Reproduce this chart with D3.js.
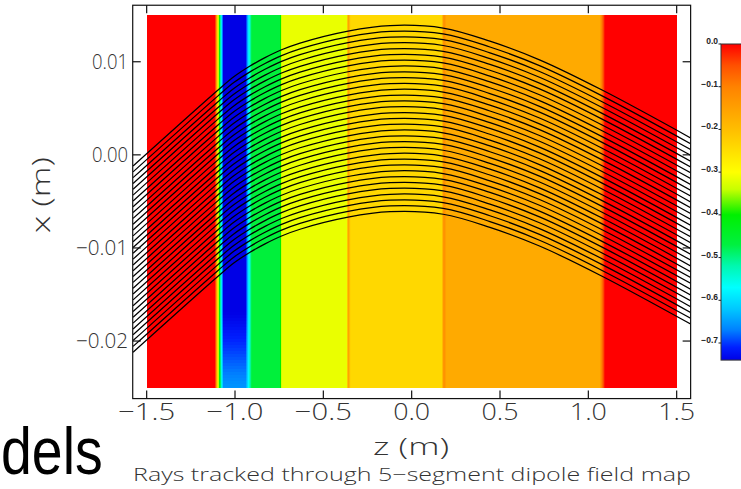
<!DOCTYPE html>
<html><head><meta charset="utf-8">
<script src="https://cdn.jsdelivr.net/npm/d3@7"></script>
<style>html,body{margin:0;padding:0;background:#fff;overflow:hidden}</style>
</head><body><svg id="c" width="741" height="489"></svg>
<script>
// ---- data ----
const zTicks = [-1.5, -1.0, -0.5, 0.0, 0.5, 1.0, 1.5];
const zTickLabels = ["\u22121.5", "\u22121.0", "\u22120.5", "0.0", "0.5", "1.0", "1.5"];
const xTicks = [0.01, 0.0, -0.01, -0.02];
const xTickLabels = ["0.01", "0.00", "\u22120.01", "\u22120.02"];
const cbTicks = [0.0, -0.1, -0.2, -0.3, -0.4, -0.5, -0.6, -0.7];
const cbTickLabels = ["0.0", "\u22120.1", "\u22120.2", "\u22120.3", "\u22120.4", "\u22120.5", "\u22120.6", "\u22120.7"];
const cmapValues = [0.0, -0.05, -0.1, -0.2, -0.3, -0.34, -0.4, -0.47, -0.52, -0.57, -0.62, -0.67, -0.71, -0.74];
const cmapColors = ["#ff0000", "#ff5000", "#ff8200", "#ffbe00", "#ffff00", "#c8ff00", "#00f000", "#00f040", "#00f8b0", "#00ffff", "#00c8ff", "#0080ff", "#0020ff", "#0000e6"];
// field map along z (top part and bottom edge of the map)
const fieldZ      = [-1.5, -1.113, -1.09, -1.066, -0.940, -0.925, -0.905, -0.748, -0.735, -0.368, -0.360, -0.345, 0.170, 0.182, 0.198, 1.064, 1.094, 1.5];
const fieldTop    = [0, 0, -0.40, -0.74, -0.74, -0.60, -0.465, -0.465, -0.315, -0.315, -0.14, -0.24, -0.24, -0.115, -0.167, -0.167, 0, 0];
const fieldBottom = [0, 0, -0.40, -0.655, -0.655, -0.58, -0.465, -0.465, -0.315, -0.315, -0.14, -0.24, -0.24, -0.115, -0.167, -0.167, 0, 0];
// top ray path (z in m, x in m)
const rayZ = [-1.577, -1.096, -1.005, -0.915, -0.830, -0.740, -0.632, -0.360, -0.122, 0.178, 0.443, 0.727, 1.078, 1.581];
const rayX = [-0.00120, 0.00696, 0.00841, 0.00954, 0.01044, 0.01126, 0.01201, 0.01330, 0.01389, 0.01362, 0.01221, 0.01018, 0.00696, 0.00180];
// offset of each ray from the top ray (mm)
const rayOffsetsMm = [0, -0.625, -1.25, -1.875, -2.5, -3.125, -3.75, -4.375, -5, -5.625, -6.25, -6.875, -7.5, -8.125, -8.75, -9.375, -10,
  -10.625, -11.25, -11.875, -12.5, -13.125, -13.75, -14.375, -15, -15.625, -16.25, -16.875, -17.5, -18.125, -18.75, -19.375, -20];
const frameZ = [-1.579, 1.579];
const frameX = [-0.02618, 0.01607];
const mapZ = [-1.5, 1.5];
const mapX = [-0.025, 0.015];
const cbRange = [0.0, -0.74];

// ---- scales ----
const svg = d3.select("#c");
const zs = d3.scaleLinear().domain([-1.5, 1.5]).range([146.67, 676.67]);
const xs = d3.scaleLinear().domain([-0.025, 0.015]).range([387.6, 15.2]);
const cmap = d3.scaleLinear().domain(cmapValues).range(cmapColors).interpolate(d3.interpolateRgb).clamp(true);
const fTop = d3.scaleLinear().domain(fieldZ).range(fieldTop).clamp(true);
const fBot = d3.scaleLinear().domain(fieldZ).range(fieldBottom).clamp(true);
const wBot = d3.scaleLinear().domain([-0.017, -0.025]).range([0, 1]).clamp(true);

const font = "'Open Sans', 'Liberation Sans', sans-serif";
const tcol = "#333";

// ---- heatmap ----
const hm = svg.append("g").attr("shape-rendering", "crispEdges");
const px0 = Math.round(zs(mapZ[0])), px1 = Math.round(zs(mapZ[1]));
const yTop = xs(mapX[1]), yBot = xs(mapX[0]);
for (let px = px0; px < px1; px++) {
  const z = zs.invert(px + 0.5);
  const a = fTop(z), b = fBot(z);
  if (Math.abs(a - b) < 1e-4) {
    hm.append("rect").attr("x", px).attr("y", yTop).attr("width", 1.05).attr("height", yBot - yTop).attr("fill", cmap(a));
  } else {
    for (let py = yTop; py < yBot; py += 3) {
      const xv = xs.invert(py + 1.5);
      const t = wBot(xv);
      hm.append("rect").attr("x", px).attr("y", py).attr("width", 1.05).attr("height", Math.min(3.05, yBot - py)).attr("fill", cmap(a + (b - a) * t));
    }
  }
}

// ---- frame ----
const fx0 = zs(frameZ[0]), fx1 = zs(frameZ[1]), fy0 = xs(frameX[1]), fy1 = xs(frameX[0]);
svg.append("clipPath").attr("id", "clip").append("rect").attr("x", fx0).attr("y", fy0).attr("width", fx1 - fx0).attr("height", fy1 - fy0);

// ---- rays ----
const line = d3.line().x(d => zs(d[0])).y(d => xs(d[1])).curve(d3.curveCatmullRom.alpha(0.5));
const rg = svg.append("g").attr("clip-path", "url(#clip)");
rayOffsetsMm.forEach(o => {
  const pts = rayZ.map((z, i) => [z, rayX[i] + o / 1000]);
  rg.append("path").attr("d", line(pts)).attr("fill", "none").attr("stroke", "#000").attr("stroke-width", 1.25);
});

svg.append("rect").attr("x", fx0).attr("y", fy0).attr("width", fx1 - fx0).attr("height", fy1 - fy0)
  .attr("fill", "none").attr("stroke", "#111").attr("stroke-width", 1.2);

// ticks
const tk = svg.append("g").attr("stroke", "#111").attr("stroke-width", 1.2);
zTicks.forEach(v => {
  tk.append("line").attr("x1", zs(v)).attr("x2", zs(v)).attr("y1", fy1).attr("y2", fy1 - 8);
  tk.append("line").attr("x1", zs(v)).attr("x2", zs(v)).attr("y1", fy0).attr("y2", fy0 + 8);
});
xTicks.forEach(v => {
  tk.append("line").attr("x1", fx0).attr("x2", fx0 + 8).attr("y1", xs(v)).attr("y2", xs(v));
  tk.append("line").attr("x1", fx1).attr("x2", fx1 - 8).attr("y1", xs(v)).attr("y2", xs(v));
});

// tick labels
zTicks.forEach((v, i) => {
  const lab = zTickLabels[i];
  svg.append("text").attr("x", zs(v)).attr("y", 420).attr("text-anchor", "middle")
    .attr("font-family", font).attr("font-weight", 300).attr("font-size", 24).attr("fill", tcol)
    .attr("textLength", lab.length === 4 ? 57 : 37).attr("lengthAdjust", "spacingAndGlyphs").text(lab);
});
xTicks.forEach((v, i) => {
  const lab = xTickLabels[i];
  svg.append("text").attr("x", 128).attr("y", xs(v) + 7).attr("text-anchor", "end")
    .attr("font-family", font).attr("font-weight", 300).attr("font-size", 20).attr("fill", tcol)
    .attr("textLength", lab.length === 5 ? 52 : 36).attr("lengthAdjust", "spacingAndGlyphs").text(lab);
});

// axis titles
svg.append("text").attr("x", 411).attr("y", 455).attr("text-anchor", "middle")
  .attr("font-family", font).attr("font-weight", 300).attr("font-size", 24).attr("fill", tcol)
  .attr("textLength", 76).attr("lengthAdjust", "spacingAndGlyphs").text("z (m)");
svg.append("text").attr("transform", "translate(50,195) rotate(-90)").attr("text-anchor", "middle")
  .attr("font-family", font).attr("font-weight", 300).attr("font-size", 26).attr("fill", tcol)
  .attr("textLength", 76).attr("lengthAdjust", "spacingAndGlyphs").text("x (m)");
svg.append("text").attr("x", 412).attr("y", 481).attr("text-anchor", "middle")
  .attr("font-family", font).attr("font-weight", 300).attr("font-size", 18).attr("fill", tcol)
  .attr("textLength", 558).attr("lengthAdjust", "spacingAndGlyphs").text("Rays tracked through 5\u2212segment dipole field map");

// slide fragment
svg.append("text").attr("transform", "translate(1,474) scale(0.84,1)").attr("font-family", "'Liberation Sans', Arial, sans-serif")
  .attr("font-size", 66).attr("fill", "#000").text("dels");

// ---- colorbar ----
const cb = d3.scaleLinear().domain([0, -0.7]).range([44, 343]);
const cbTop = cb(cbRange[0]), cbBot = cb(cbRange[1]);
const defs = svg.append("defs");
const grad = defs.append("linearGradient").attr("id", "cbg").attr("x1", 0).attr("y1", 0).attr("x2", 0).attr("y2", 1);
cmapValues.forEach((v, i) => {
  grad.append("stop").attr("offset", (cb(v) - cbTop) / (cbBot - cbTop)).attr("stop-color", cmapColors[i]);
});
svg.append("rect").attr("x", 721).attr("y", cbTop).attr("width", 40).attr("height", cbBot - cbTop)
  .attr("fill", "url(#cbg)").attr("stroke", "#333").attr("stroke-width", 1);
cbTicks.forEach((v, i) => {
  svg.append("line").attr("x1", 718.5).attr("x2", 721).attr("y1", cb(v)).attr("y2", cb(v)).attr("stroke", "#222").attr("stroke-width", 1);
  svg.append("text").attr("x", 718).attr("y", cb(v)).attr("text-anchor", "end")
    .attr("font-family", "'Liberation Sans', sans-serif").attr("font-weight", "bold").attr("font-size", 8.5).attr("fill", "#222")
    .text(cbTickLabels[i]);
});
</script></body></html>
